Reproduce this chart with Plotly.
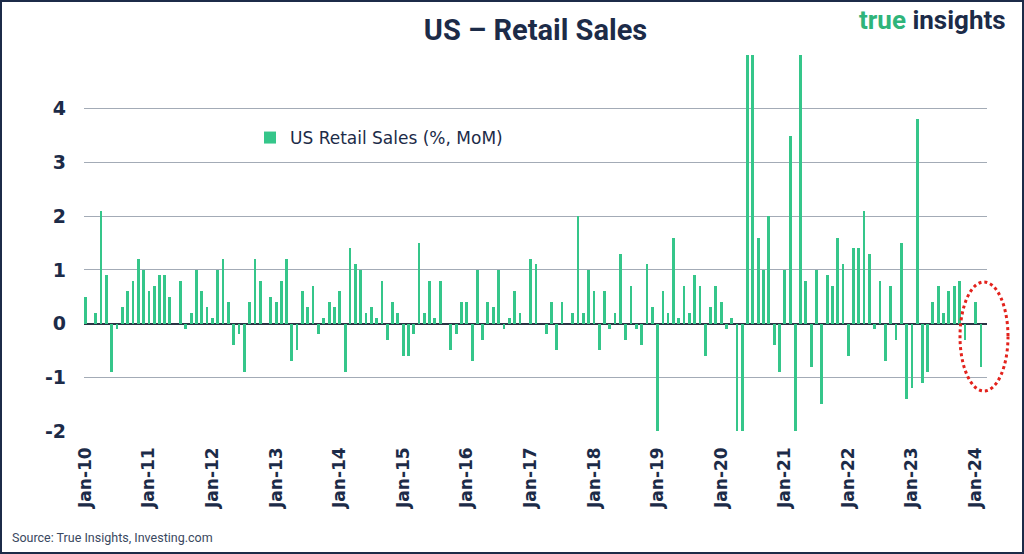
import pandas as pd
import plotly.graph_objects as go

start_month = "2010-01-01"
values = [
    0.5, 0.0, 0.2, 2.1, 0.9, -0.9, -0.1, 0.3, 0.6, 0.8, 1.2, 1.0,
    0.6, 0.7, 0.9, 0.9, 0.5, 0.0, 0.8, -0.1, 0.2, 1.0, 0.6, 0.3,
    0.1, 1.0, 1.2, 0.4, -0.4, -0.2, -0.9, 0.4, 1.2, 0.8, 0.0, 0.5,
    0.4, 0.8, 1.2, -0.7, -0.5, 0.6, 0.3, 0.7, -0.2, 0.1, 0.4, 0.3,
    0.6, -0.9, 1.4, 1.1, 1.0, 0.2, 0.3, 0.1, 0.8, -0.3, 0.4, 0.2,
    -0.6, -0.6, -0.2, 1.5, 0.2, 0.8, 0.1, 0.8, 0.0, -0.5, -0.2, 0.4,
    0.4, -0.7, 1.0, -0.3, 0.4, 0.3, 1.0, -0.1, 0.1, 0.6, 0.2, 0.0,
    1.2, 1.1, 0.0, -0.2, 0.4, -0.5, 0.4, 0.0, 0.2, 2.0, 0.2, 1.0,
    0.6, -0.5, 0.6, -0.1, 0.2, 1.3, -0.3, 0.7, -0.1, -0.4, 1.1, 0.3,
    -3.0, 0.6, 0.2, 1.6, 0.1, 0.7, 0.2, 0.9, 0.7, -0.6, 0.3, 0.7,
    0.4, -0.1, 0.1, -8.2, -14.7, 17.7, 7.5, 1.6, 1.0, 2.0, -0.4, -0.9,
    1.0, 3.5, -3.0, 9.8, 0.8, -0.8, 1.0, -1.5, 0.9, 0.7, 1.6, 1.1,
    -0.6, 1.4, 1.4, 2.1, 1.3, -0.1, 0.8, -0.7, 0.7, -0.3, 1.5, -1.4,
    -1.2, 3.8, -1.1, -0.9, 0.4, 0.7, 0.2, 0.6, 0.7, 0.8, -0.3, 0.0,
    0.4, -0.8,
]
months = pd.date_range(start_month, periods=len(values), freq="MS")
series_name = "US Retail Sales (%, MoM)"
y_ticks = [-2, -1, 0, 1, 2, 3, 4]
y_ticktext = [str(v) for v in y_ticks]

NAVY = "#1c2b48"
GREEN = "#35c68a"

W, H = 1024, 554
ML, MR, MT, MB = 84, 37, 55, 123
PW, PH = W - ML - MR, H - MT - MB

fig = go.Figure()
fig.add_trace(go.Bar(
    x=months, y=values, name=series_name,
    marker=dict(color=GREEN, line=dict(width=0)),
    width=16 * 86400000,
    showlegend=True,
))

def px_x(p):
    return (p - ML) / PW

def px_y(p):
    return (H - MB - p) / PH

fig.update_layout(
    width=W, height=H,
    margin=dict(l=ML, r=MR, t=MT, b=MB),
    paper_bgcolor="white", plot_bgcolor="white",
    showlegend=True,
    legend=dict(x=px_x(250), y=px_y(138), xanchor="left", yanchor="middle",
                font=dict(family="DejaVu Sans", size=17, color=NAVY),
                bgcolor="rgba(0,0,0,0)"),
    title=dict(text="<b>US – Retail Sales</b>", x=0.5, xref="paper", xanchor="center",
               y=1 - 30 / H, yref="container", yanchor="middle",
               font=dict(family="Roboto", size=29, color=NAVY)),
    xaxis=dict(
        type="date",
        range=[pd.Timestamp("2009-12-24"), pd.Timestamp("2024-03-07")],
        tickmode="linear", tick0=start_month, dtick="M12",
        tickformat="%b-%y", tickangle=-90,
        tickfont=dict(family="DejaVu Sans", size=17, color=NAVY, weight="bold"),
        showgrid=False, zeroline=False, showline=False,
        ticks="", ticklabelstandoff=12,
    ),
    yaxis=dict(
        range=[-2, 5], tickmode="array", tickvals=y_ticks, ticktext=y_ticktext,
        tickfont=dict(family="DejaVu Sans", size=19, color=NAVY, weight="bold"),
        showgrid=True, gridcolor="#a3abb6", gridwidth=1,
        zeroline=True, zerolinecolor="#2a3444", zerolinewidth=1.5,
        showline=False, ticks="", ticklabelstandoff=17,
    ),
    bargap=0,
)

fig.add_annotation(
    text="<b><span style='color:#2fb47a'>true</span> insights</b>",
    xref="paper", yref="paper", x=px_x(1008), y=px_y(20),
    xanchor="right", yanchor="middle", showarrow=False,
    font=dict(family="Roboto", size=26, color=NAVY),
)
fig.add_annotation(
    text="Source: True Insights, Investing.com",
    xref="paper", yref="paper", x=px_x(10), y=px_y(537),
    xanchor="left", yanchor="middle", showarrow=False,
    font=dict(family="Roboto", size=12.5, color="#3a4860"),
)

# red dotted ellipse highlight
fig.add_shape(type="circle", xref="paper", yref="paper",
              x0=px_x(960), x1=px_x(1008), y0=px_y(391), y1=px_y(282),
              line=dict(color="#e3221c", width=3, dash="dot"))

# outer frame
fig.add_shape(type="rect", xref="paper", yref="paper",
              x0=px_x(1), x1=px_x(W - 1), y0=px_y(H - 1), y1=px_y(1),
              line=dict(color=NAVY, width=2), fillcolor="rgba(0,0,0,0)")

fig.write_html("out.html", config={"displayModeBar": False},
               post_script="document.body.style.margin='0px';")
